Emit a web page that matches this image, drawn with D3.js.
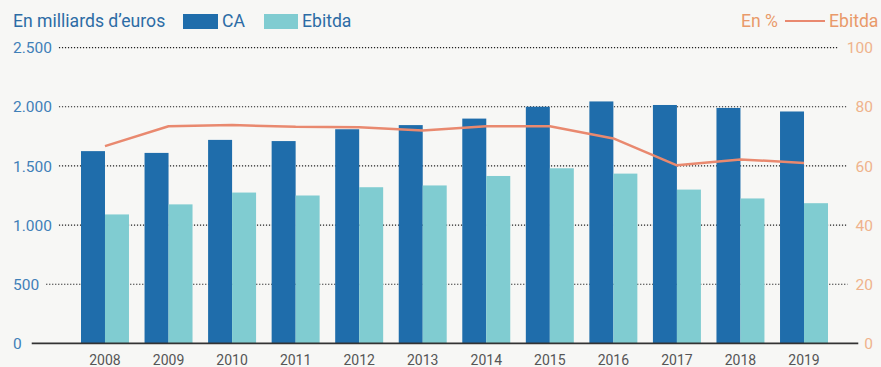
<!DOCTYPE html>
<html lang="fr">
<head>
<meta charset="utf-8">
<script src="https://cdn.jsdelivr.net/npm/d3@7/dist/d3.min.js"></script>
<style>
  html, body { margin: 0; padding: 0; background: #f7f7f5; }
  svg { display: block; font-family: Roboto, "Open Sans", sans-serif; }
</style>
</head>
<body>
<svg id="chart" width="881" height="367"></svg>
<script>
// Chiffre d'affaires et Ebitda (milliards d'euros) et marge d'Ebitda (%)
const years = ["2008","2009","2010","2011","2012","2013","2014","2015","2016","2017","2018","2019"];
const caValues = [1625, 1610, 1720, 1710, 1810, 1845, 1900, 2000, 2045, 2015, 1990, 1960];
const ebitdaValues = [1090, 1175, 1275, 1250, 1320, 1335, 1415, 1480, 1435, 1300, 1225, 1185];
const ebitdaPct = [66.7, 73.4, 73.8, 73.2, 73.1, 72.0, 73.4, 73.4, 69.3, 60.2, 62.2, 61.0];
const leftTicks = [0, 500, 1000, 1500, 2000, 2500];
const rightTicks = [0, 20, 40, 60, 80, 100];
const seriesKeys = ["CA", "Ebitda"];

const colors = {
  ca: "#1f6dab",
  ebitda: "#80ccd1",
  line: "#e9896f",
  title: "#2c6ca5",
  leftTick: "#3f80b8",
  rightTick: "#efb38c",
  legendOrange: "#e99a6a",
  xTick: "#555555",
  axis: "#333333",
  grid: "#222222"
};

const svg = d3.select("#chart");
const fmt = d3.formatLocale({ decimal: ",", thousands: ".", grouping: [3], currency: ["", " €"] }).format(",");

const rows = years.map((y, i) => ({ year: y, CA: caValues[i], Ebitda: ebitdaValues[i], pct: ebitdaPct[i] }));

// Scales
const yLeft = d3.scaleLinear().domain([0, 2500]).range([343.4, 47.6]);
const yRight = d3.scaleLinear().domain([0, 100]).range([343.4, 47.6]);
const x0 = d3.scaleBand().domain(years).range([81, 828]).paddingInner(0.245).paddingOuter(0);
const x1 = d3.scaleBand().domain(seriesKeys).range([0, x0.bandwidth()]);

// Left tick labels
const leftLabels = svg.append("g").selectAll("text")
  .data(leftTicks).join("text")
  .attr("x", 13)
  .attr("y", d => yLeft(d))
  .attr("dy", "0.36em")
  .attr("font-size", 15.5)
  .attr("fill", colors.leftTick)
  .text(d => fmt(d));

// Right tick labels
const rightLabels = svg.append("g").selectAll("text")
  .data(rightTicks).join("text")
  .attr("x", 873)
  .attr("y", d => yRight(d))
  .attr("dy", "0.36em")
  .attr("text-anchor", "end")
  .attr("font-size", 15.5)
  .attr("fill", colors.rightTick)
  .text(d => d);

// Dotted gridlines between the two label columns
const leftEnds = leftLabels.nodes().map(n => { const b = n.getBBox(); return b.x + b.width; });
const rightStarts = rightLabels.nodes().map(n => n.getBBox().x);
const grid = svg.append("g");
leftTicks.forEach((t, i) => {
  if (t === 0) return;
  grid.append("line")
    .attr("x1", leftEnds[i] + 7)
    .attr("x2", rightStarts[i] - 8)
    .attr("y1", yLeft(t))
    .attr("y2", yLeft(t))
    .attr("stroke", colors.grid)
    .attr("stroke-width", 1.2)
    .attr("stroke-dasharray", "1.2,1.8");
});

// Bars
const groups = svg.append("g").selectAll("g")
  .data(rows).join("g")
  .attr("transform", d => `translate(${x0(d.year)},0)`);
groups.selectAll("rect")
  .data(d => seriesKeys.map(k => ({ key: k, value: d[k] })))
  .join("rect")
  .attr("x", d => x1(d.key))
  .attr("width", x1.bandwidth())
  .attr("y", d => yLeft(d.value))
  .attr("height", d => yLeft(0) - yLeft(d.value))
  .attr("fill", d => d.key === "CA" ? colors.ca : colors.ebitda);

// Baseline
svg.append("line")
  .attr("x1", leftEnds[0] + 10)
  .attr("x2", rightStarts[0] - 6)
  .attr("y1", yLeft(0))
  .attr("y2", yLeft(0))
  .attr("stroke", colors.axis)
  .attr("stroke-width", 1.6);

// Ebitda margin line
const line = d3.line()
  .x(d => x0(d.year) + x0.bandwidth() / 2)
  .y(d => yRight(d.pct));
svg.append("path")
  .datum(rows)
  .attr("d", line)
  .attr("fill", "none")
  .attr("stroke", colors.line)
  .attr("stroke-width", 2.5)
  .attr("stroke-linejoin", "round");

// Year labels
svg.append("g").selectAll("text")
  .data(years).join("text")
  .attr("x", d => x0(d) + x0.bandwidth() / 2)
  .attr("y", 365)
  .attr("text-anchor", "middle")
  .attr("font-size", 14)
  .attr("fill", colors.xTick)
  .text(d => d);

// Title and legend (left)
svg.append("text")
  .attr("x", 13).attr("y", 27)
  .attr("font-size", 17.6)
  .attr("fill", colors.title)
  .text("En milliards d’euros");
svg.append("rect").attr("x", 183).attr("y", 14).attr("width", 35).attr("height", 15).attr("fill", colors.ca);
svg.append("text").attr("x", 222).attr("y", 27).attr("font-size", 17.6).attr("fill", colors.title).text("CA");
svg.append("rect").attr("x", 264).attr("y", 14).attr("width", 34).attr("height", 15).attr("fill", colors.ebitda);
svg.append("text").attr("x", 302).attr("y", 27).attr("font-size", 17.6).attr("fill", colors.title).text("Ebitda");

// Legend (right)
svg.append("text").attr("x", 741).attr("y", 27).attr("font-size", 17.6).attr("fill", colors.legendOrange).text("En %");
svg.append("line").attr("x1", 785).attr("x2", 825).attr("y1", 21).attr("y2", 21)
  .attr("stroke", colors.line).attr("stroke-width", 2.2);
svg.append("text").attr("x", 829).attr("y", 27).attr("font-size", 17.6).attr("fill", colors.legendOrange).text("Ebitda");
</script>
</body>
</html>
